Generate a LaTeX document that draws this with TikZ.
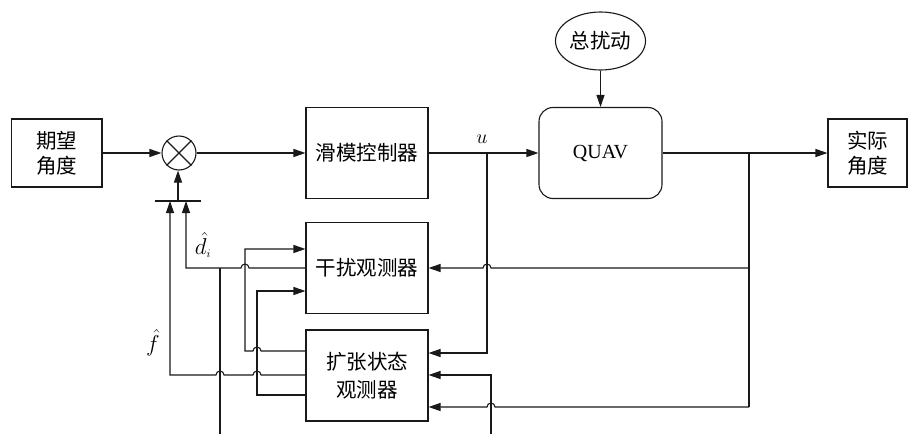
\RequirePackage{fix-cm}
\documentclass[tikz,border=0pt]{standalone}
\usepackage{fontspec}
\setmainfont{Liberation Serif}
\newfontfamily\cjk{Noto Sans CJK SC}
\usetikzlibrary{arrows.meta,shapes.geometric}
\begin{document}
\begin{tikzpicture}[x=1pt,y=-1pt,
  line/.style={draw=black!90,line width=1.1pt},
  arr/.style={line,-{Triangle[length=12pt,width=8pt]}},
  blk/.style={line,rectangle,inner sep=0pt,align=center,font=\cjk\fontsize{20.5}{25}\selectfont},
  lbl/.style={font=\fontsize{23}{26}\selectfont,inner sep=0pt}
]
\useasboundingbox (0,0) rectangle (909,434);
% blocks
\node[blk,minimum width=90.5pt,minimum height=68pt] (in) at (56.75,153) {期望\\角度};
\node[blk,minimum width=79pt,minimum height=68pt] (out) at (867.5,153) {实际\\角度};
\node[blk,minimum width=122pt,minimum height=91pt] (smc) at (367,153) {滑模控制器};
\node[blk,minimum width=122pt,minimum height=90.5pt] (dob) at (367,268) {干扰观测器};
\node[blk,minimum width=122pt,minimum height=91pt,font=\cjk\fontsize{20.5}{28}\selectfont] (eso) at (367,375.5) {扩张状态\\观测器};
\node[blk,rounded corners=14pt,minimum width=123pt,minimum height=91pt,font=\fontsize{20}{24}\selectfont] (quav) at (600.5,153) {QUAV};
\node[line,ellipse,minimum width=90pt,minimum height=58pt,inner sep=0pt,font=\cjk\fontsize{20.5}{25}\selectfont] (dist) at (600.5,41) {总扰动};
\node[line,circle,minimum size=34pt,inner sep=0pt] (sum) at (179,153) {};
\draw[line] (sum.north west) -- (sum.south east);
\draw[line] (sum.north east) -- (sum.south west);
% bar under sum
\coordinate (barL) at (155,201);
\coordinate (barR) at (201,201);
\coordinate (barM) at (178,201);
\draw[line] (barL) -- (barR);
\draw[arr] (barM) -- (sum.south -| barM);
% forward path
\draw[arr] (in.east) -- (sum.west);
\draw[arr] (sum.east) -- (smc.west);
\draw[arr] (smc.east) -- (quav.west);
\node[lbl,font=\fontsize{20}{24}\selectfont] (ulbl) at (482,139) {$u$};
\draw[arr] (dist.south) -- (quav.north);
\draw[arr] (quav.east) -- (out.west);
% feedback right side
\coordinate (fbT) at (749,153);
\coordinate (fb1) at (749,268);
\coordinate (fb2) at (749,407);
\draw[line] (fbT) -- (fb2);
\draw[arr] (fb1) -- (491,268) arc[start angle=0,end angle=-180,radius=4] -- (dob.east |- fb1);
\draw[arr] (fb2) -- (495,407) arc[start angle=0,end angle=-180,radius=4] -- (eso.east |- fb2);
\coordinate (uj) at (487,153);
\coordinate (uD) at (487,353);
\draw[arr] (uj) -- (uD) -- (eso.east |- uD);
\coordinate (xB) at (491,434);
\coordinate (xT) at (491,375);
\draw[arr] (xB) -- (xT) -- (eso.east |- xT);
% left side
\coordinate (dL) at (186,268);
\coordinate (dB) at (186,201);
\draw[arr] (dob.west |- dL) -- (249,268) arc[start angle=0,end angle=-180,radius=4] -- (dL) -- (dB);
\coordinate (dj) at (220,268);
\coordinate (dBot) at (220,434);
\draw[line] (dj) -- (dBot);
\coordinate (fL) at (170,375);
\coordinate (fB) at (170,201);
\draw[arr] (eso.west |- fL) -- (261,375) arc[start angle=0,end angle=-180,radius=4] -- (224,375) arc[start angle=0,end angle=-180,radius=4] -- (fL) -- (fB);
\coordinate (a1) at (245,351);
\coordinate (a2) at (245,249);
\draw[arr] (eso.west |- a1) -- (261,351) arc[start angle=0,end angle=-180,radius=4] -- (a1) -- (a2) -- (dob.west |- a2);
\coordinate (b1) at (257,395);
\coordinate (b2) at (257,291);
\draw[arr] (eso.west |- b1) -- (b1) -- (b2) -- (dob.west |- b2);
% labels
\node[lbl] (dlbl) at (203,245) {$\hat{d}_{\scriptscriptstyle i}$};
\node[lbl] (flbl) at (153,343) {$\hat{f}$};
\end{tikzpicture}
\end{document}
